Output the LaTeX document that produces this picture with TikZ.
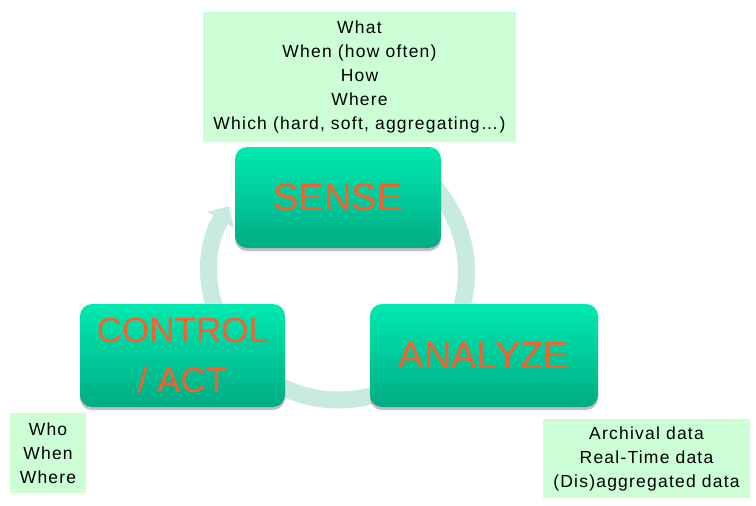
\documentclass[tikz,border=0pt]{standalone}
\usepackage{fontspec}
\setmainfont{Liberation Sans}
\newfontfamily\notefont[LetterSpace=7]{Liberation Sans}
\usetikzlibrary{arrows.meta,shadows}
\definecolor{ringc}{RGB}{200,235,222}
\definecolor{boxtop}{RGB}{0,234,176}
\definecolor{boxbot}{RGB}{0,172,132}
\definecolor{txtc}{RGB}{255,92,40}
\definecolor{notec}{RGB}{204,255,214}
\tikzset{
  stage/.style={rounded corners=12pt, top color=boxtop, bottom color=boxbot, draw=none,
    inner sep=0pt, align=center, text=txtc,
    font=\fontsize{38}{50}\selectfont,
    drop shadow={shadow xshift=0pt, shadow yshift=-3pt, opacity=0.25, fill=black}},
  note/.style={fill=notec, draw=none, inner sep=0pt, align=center,
    font=\notefont\fontsize{17.5}{24}\selectfont},
  ring/.style={line width=17pt, draw=ringc, -{Triangle[length=16pt,width=30pt]}}
}
\begin{document}
\begin{tikzpicture}[x=1pt,y=-1pt]
\useasboundingbox (0,0) rectangle (756,506);
\coordinate (rc) at (338.5,272);
\draw[ring] ([shift={(-50:128)}]rc) arc[start angle=-50,end angle=211,radius=128];
\node[stage, minimum width=206pt, minimum height=101pt] (sense) at (338,197.5) {SENSE};
\node[stage, minimum width=205pt, minimum height=103pt, font=\fontsize{35}{50}\selectfont] (control) at (182.5,355.5) {CONTROL\\/ ACT};
\node[stage, minimum width=228pt, minimum height=103pt] (analyze) at (484,355.5) {ANALYZE};
\node[note, minimum width=313pt, minimum height=130pt] (what) at (359.5,77)
  {What\\When (how often)\\How\\Where\\Which (hard, soft, aggregating…)};
\node[note, minimum width=76pt, minimum height=80pt] (who) at (48,453)
  {Who\\When\\Where};
\node[note, minimum width=207pt, minimum height=79pt] (arch) at (646.5,458.5)
  {Archival data\\Real-Time data\\(Dis)aggregated data};
\end{tikzpicture}
\end{document}
